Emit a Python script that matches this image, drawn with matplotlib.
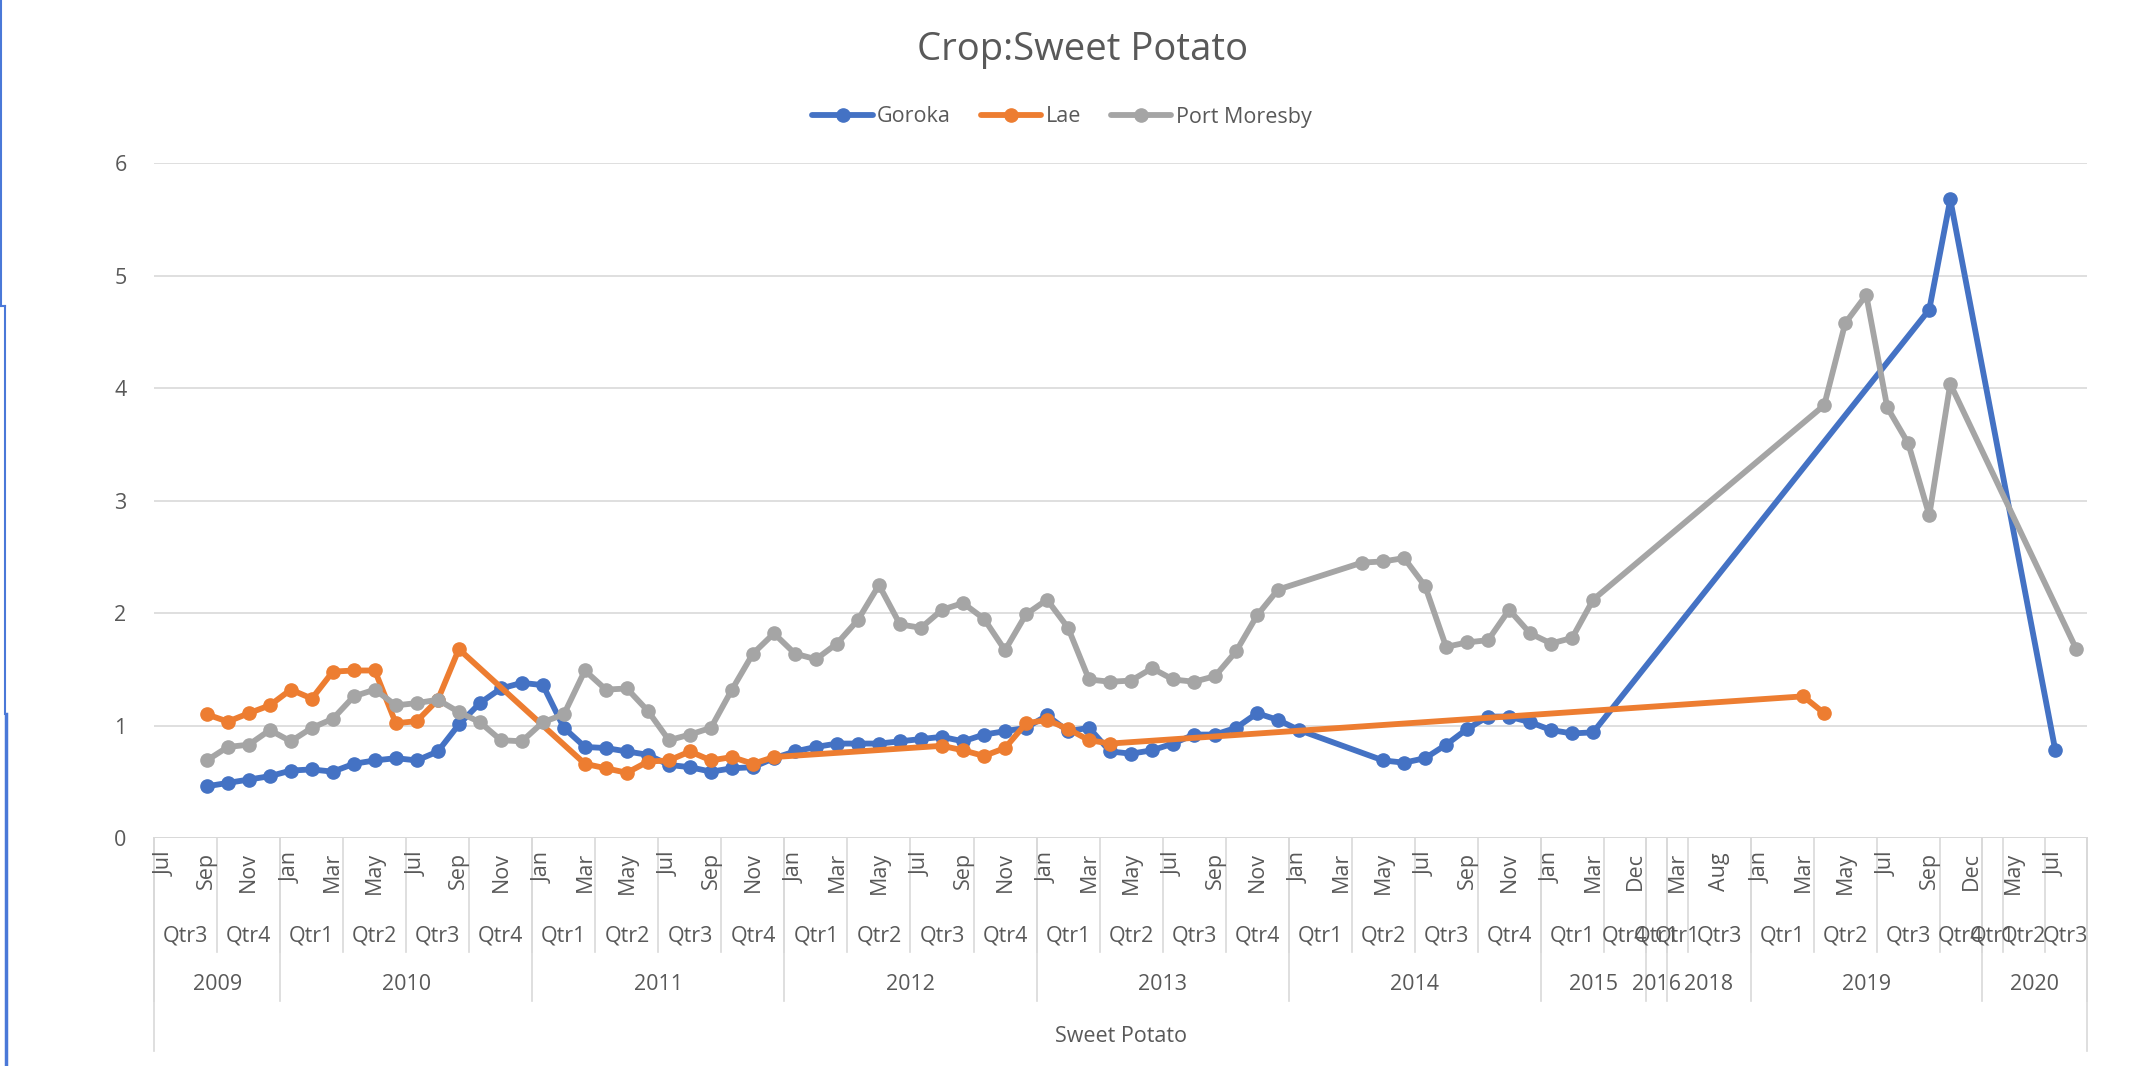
import matplotlib
matplotlib.use("Agg")
import matplotlib.pyplot as plt
from matplotlib.lines import Line2D

plt.rcParams['font.family'] = ['Open Sans', 'DejaVu Sans']

# category axis: (year, quarter, months)
periods = [
    ("2009", "Qtr3", ["Jul", "Aug", "Sep"]),
    ("2009", "Qtr4", ["Oct", "Nov", "Dec"]),
    ("2010", "Qtr1", ["Jan", "Feb", "Mar"]),
    ("2010", "Qtr2", ["Apr", "May", "Jun"]),
    ("2010", "Qtr3", ["Jul", "Aug", "Sep"]),
    ("2010", "Qtr4", ["Oct", "Nov", "Dec"]),
    ("2011", "Qtr1", ["Jan", "Feb", "Mar"]),
    ("2011", "Qtr2", ["Apr", "May", "Jun"]),
    ("2011", "Qtr3", ["Jul", "Aug", "Sep"]),
    ("2011", "Qtr4", ["Oct", "Nov", "Dec"]),
    ("2012", "Qtr1", ["Jan", "Feb", "Mar"]),
    ("2012", "Qtr2", ["Apr", "May", "Jun"]),
    ("2012", "Qtr3", ["Jul", "Aug", "Sep"]),
    ("2012", "Qtr4", ["Oct", "Nov", "Dec"]),
    ("2013", "Qtr1", ["Jan", "Feb", "Mar"]),
    ("2013", "Qtr2", ["Apr", "May", "Jun"]),
    ("2013", "Qtr3", ["Jul", "Aug", "Sep"]),
    ("2013", "Qtr4", ["Oct", "Nov", "Dec"]),
    ("2014", "Qtr1", ["Jan", "Feb", "Mar"]),
    ("2014", "Qtr2", ["Apr", "May", "Jun"]),
    ("2014", "Qtr3", ["Jul", "Aug", "Sep"]),
    ("2014", "Qtr4", ["Oct", "Nov", "Dec"]),
    ("2015", "Qtr1", ["Jan", "Feb", "Mar"]),
    ("2015", "Qtr4", ["Nov", "Dec"]),
    ("2016", "Qtr1", ["Feb"]),
    ("2018", "Qtr1", ["Mar"]),
    ("2018", "Qtr3", ["Jul", "Aug", "Sep"]),
    ("2019", "Qtr1", ["Jan", "Feb", "Mar"]),
    ("2019", "Qtr2", ["Apr", "May", "Jun"]),
    ("2019", "Qtr3", ["Jul", "Aug", "Sep"]),
    ("2019", "Qtr4", ["Oct", "Dec"]),
    ("2020", "Qtr1", ["Feb"]),
    ("2020", "Qtr2", ["May", "Jun"]),
    ("2020", "Qtr3", ["Jul", "Aug"]),
]

N = None
goroka = [N, N, 0.46, 0.49, 0.52, 0.55,
          0.60, 0.61, 0.59, 0.66, 0.69, 0.71, 0.69, 0.77, 1.01, 1.20, 1.33, 1.38,
          1.36, 0.98, 0.81, 0.80, 0.77, 0.74, 0.65, 0.63, 0.59, 0.62, 0.63, 0.71,
          0.77, 0.81, 0.84, 0.84, 0.84, 0.86, 0.88, 0.90, 0.86, 0.92, 0.95, 0.98,
          1.09, 0.95, 0.98, 0.77, 0.75, 0.78, 0.84, 0.92, 0.92, 0.98, 1.11, 1.05,
          0.96, N, N, N, 0.69, 0.67, 0.71, 0.83, 0.97, 1.08, 1.08, 1.03,
          0.96, 0.93, 0.94, N, N,
          N,
          N, N, N, N,
          N, N, N, N, N, N, N, N, 4.70, 5.68, N,
          N, N, N, 0.78, N]
lae = [N, N, 1.10, 1.035, 1.11, 1.18,
       1.32, 1.24, 1.48, 1.49, 1.49, 1.02, 1.04, 1.23, 1.68, N, N, N,
       N, N, 0.66, 0.62, 0.58, 0.68, 0.69, 0.77, 0.69, 0.72, 0.66, 0.72,
       N, N, N, N, N, N, N, 0.82, 0.78, 0.73, 0.80, 1.02,
       1.05, 0.97, 0.87, 0.84, N, N, N, N, N, N, N, N,
       N, N, N, N, N, N, N, N, N, N, N, N,
       N, N, N, N, N,
       N,
       N, N, N, N,
       N, N, 1.26, 1.11, N, N, N, N, N, N, N,
       N, N, N, N, N]
port_moresby = [N, N, 0.69, 0.81, 0.83, 0.96,
                0.86, 0.98, 1.06, 1.26, 1.32, 1.18, 1.20, 1.23, 1.12, 1.03, 0.87, 0.86,
                1.03, 1.10, 1.49, 1.32, 1.33, 1.13, 0.87, 0.92, 0.98, 1.32, 1.64, 1.82,
                1.64, 1.59, 1.73, 1.94, 2.25, 1.90, 1.87, 2.03, 2.09, 1.95, 1.67, 1.99,
                2.12, 1.87, 1.41, 1.39, 1.40, 1.51, 1.41, 1.39, 1.44, 1.66, 1.98, 2.21,
                N, N, N, 2.45, 2.46, 2.49, 2.24, 1.70, 1.74, 1.76, 2.03, 1.82,
                1.73, 1.78, 2.12, N, N,
                N,
                N, N, N, N,
                N, N, N, 3.85, 4.58, 4.83, 3.83, 3.51, 2.87, 4.04, N,
                N, N, N, N, 1.68]

series = [("Goroka", goroka, "#4472C4"),
          ("Lae", lae, "#ED7D31"),
          ("Port Moresby", port_moresby, "#A5A5A5")]

months = [m for y, q, ms in periods for m in ms]
ncat = len(months)

W, H = 2136, 1066
fig = plt.figure(figsize=(W / 100, H / 100), dpi=100, facecolor='w')
ax = fig.add_axes([154.3 / W, 1 - 838 / H, 1932.5 / W, 674.5 / H])

txt = '#595959'
grid = '#D9D9D9'
fs = 15.5

for name, vals, col in series:
    xs = [i for i, v in enumerate(vals) if v is not None]
    ys = [v for v in vals if v is not None]
    ax.plot(xs, ys, color=col, lw=4.2, marker='o', ms=9.5, label=name,
            solid_capstyle='round', solid_joinstyle='round', zorder=3)

ax.set_xlim(-0.5, ncat - 0.5)
ax.set_ylim(0, 6)
ax.set_yticks(range(7))
ax.tick_params(axis='y', length=0, pad=20, labelsize=fs, labelcolor=txt)
ax.set_xticks([])
ax.grid(axis='y', color=grid, lw=1.2)
ax.set_axisbelow(True)
for s in ax.spines.values():
    s.set_visible(False)
ax.axhline(0, color=grid, lw=1.4, zorder=1)

# multi-level category axis
tr = ax.get_xaxis_transform()
def yf(px):
    return (838 - px) / 674.5

for i, m in enumerate(months):
    if i % 2 == 0:
        ax.text(i, yf(852), m, rotation=90, ha='center', va='top',
                fontsize=fs, color=txt, transform=tr, clip_on=False)

pos = 0
qbounds = [-0.5]
ybounds = [-0.5]
year_labels = []
for k, (yr, q, ms) in enumerate(periods):
    start, end = pos - 0.5, pos + len(ms) - 0.5
    ax.text((start + end) / 2, yf(936), q, ha='center', va='center',
            fontsize=fs, color=txt, transform=tr, clip_on=False)
    qbounds.append(end)
    if k + 1 == len(periods) or periods[k + 1][0] != yr:
        ybounds.append(end)
        year_labels.append(yr)
    pos += len(ms)

for k, label in enumerate(year_labels):
    a, b = ybounds[k], ybounds[k + 1]
    ax.text((a + b) / 2, yf(985), label, ha='center', va='center',
            fontsize=fs, color=txt, transform=tr, clip_on=False)

for b in qbounds:
    ax.plot([b, b], [0, yf(952)], color=grid, lw=1.2, transform=tr, clip_on=False)
for b in ybounds:
    ax.plot([b, b], [0, yf(1001)], color=grid, lw=1.2, transform=tr, clip_on=False)
for b in (-0.5, ncat - 0.5):
    ax.plot([b, b], [0, yf(1051)], color=grid, lw=1.2, transform=tr, clip_on=False)

ax.text((ncat - 1) / 2, yf(1036), "Sweet Potato", ha='center', va='center',
        fontsize=fs, color=txt, transform=tr, clip_on=False)

fig.text(1083 / W, 1 - 50 / H, "Crop:Sweet Potato", ha='center', va='center',
         fontsize=27.5, color=txt)

fig.legend(loc='center', bbox_to_anchor=(1062 / W, 1 - 117 / H), ncol=3,
           frameon=False, fontsize=fs, labelcolor=txt, handlelength=2.8,
           handletextpad=0.2, columnspacing=1.4, numpoints=1)

# blue border from the screenshot
bc = '#4A78D8'
fig.add_artist(Line2D([1 / W, 1 / W], [1, 1 - 306 / H], color=bc, lw=1.5))
fig.add_artist(Line2D([1 / W, 5 / W], [1 - 306 / H, 1 - 306 / H], color=bc, lw=1.5))
fig.add_artist(Line2D([5 / W, 5 / W], [1 - 306 / H, 1 - 714 / H], color=bc, lw=1.5))
fig.add_artist(Line2D([6 / W, 6 / W], [1 - 714 / H, 0], color=bc, lw=2.5))

fig.savefig("out.png", dpi=100, facecolor='w')
